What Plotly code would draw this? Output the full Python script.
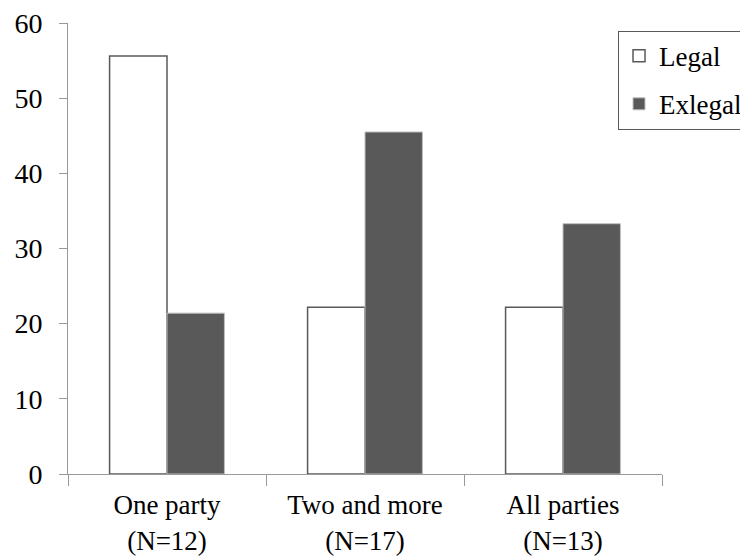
import plotly.graph_objects as go

categories = ["One party<br>(N=12)", "Two and more<br>(N=17)", "All parties<br>(N=13)"]
legal = [55.6, 22.2, 22.2]
exlegal = [21.4, 45.5, 33.3]
y_ticks = [0, 10, 20, 30, 40, 50, 60]

font_family = "Liberation Serif, Times New Roman, serif"
axis_color = "#999999"
fs = 28

fig = go.Figure()
fig.add_trace(go.Bar(
    x=categories, y=legal, name="Legal", legendgroup="a",
    marker=dict(color="white", line=dict(color="#595959", width=1.5)),
))
fig.add_trace(go.Bar(
    x=categories, y=exlegal, name="Exlegal", legendgroup="b",
    marker=dict(color="#595959", line=dict(color="#bfbfbf", width=1)),
))

fig.update_layout(
    width=740, height=551,
    margin=dict(l=60, r=86, t=15, b=85, autoexpand=False),
    paper_bgcolor="white", plot_bgcolor="white",
    barmode="group", bargap=0.42, bargroupgap=0,
    font=dict(family=font_family, size=fs, color="black"),
    showlegend=True,
    legend=dict(
        x=1.1448, y=0.983, xanchor="right", yanchor="top",
        bordercolor="#595959", borderwidth=1, bgcolor="white",
        font=dict(family=font_family, size=27, color="black"),
        itemwidth=30, traceorder="grouped", tracegroupgap=10,
    ),
)
fig.update_xaxes(
    showline=True, linecolor=axis_color, linewidth=1,
    ticks="outside", tickson="boundaries", ticklen=11, tickcolor=axis_color,
    showgrid=False, zeroline=False, automargin=False,
    tickfont=dict(family=font_family, size=27, color="black"),
    ticklabelstandoff=7,
)
fig.update_yaxes(
    range=[0, 60], tickvals=y_ticks,
    showline=True, linecolor=axis_color, linewidth=1,
    ticks="outside", ticklen=8, tickcolor=axis_color,
    showgrid=False, zeroline=False, automargin=False,
    tickfont=dict(family=font_family, size=fs, color="black"),
    ticklabelstandoff=11, ticklabeloverflow="allow",
)

fig.write_html("out.html")
